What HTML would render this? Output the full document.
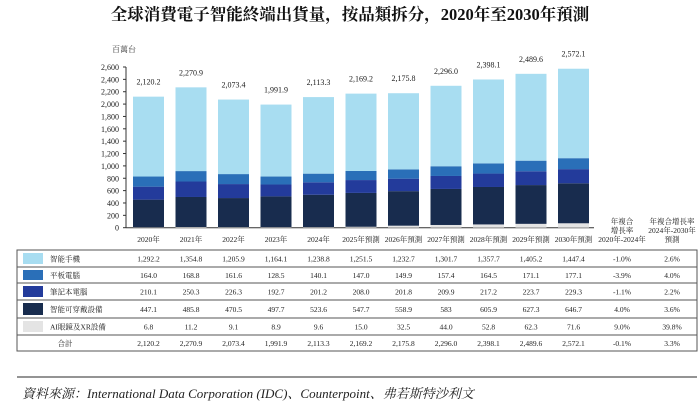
<!DOCTYPE html>
<html><head><meta charset="utf-8"><style>
body{margin:0;background:#fff;width:700px;height:408px;overflow:hidden;font-family:"Liberation Serif","Noto Serif CJK SC",serif;}
svg text{font-family:"Liberation Serif","Noto Serif CJK SC",serif;}
</style></head><body>
<svg id="c" width="700" height="408">
<text x="350" y="20" text-anchor="middle" font-size="16.5" font-weight="bold" fill="#111">全球消費電子智能終端出貨量，按品類拆分，2020年至2030年預測</text>
<text x="112" y="52" font-size="8" fill="#333">百萬台</text>
<g id="plot"></g>
<line x1="17" y1="377" x2="697" y2="377" stroke="#555" stroke-width="1.2"/>
<text x="22" y="398" font-size="13" font-style="italic" fill="#222">資料來源：International Data Corporation (IDC)、Counterpoint、弗若斯特沙利文</text>
</svg>
<script>
const years=["2020年","2021年","2022年","2023年","2024年","2025年預測","2026年預測","2027年預測","2028年預測","2029年預測","2030年預測"];
const seriesNames=["智能手機","平板電腦","筆記本電腦","智能可穿戴設備","AI眼鏡及XR設備"];
const phone=[1292.2,1354.8,1205.9,1164.1,1238.8,1251.5,1232.7,1301.7,1357.7,1405.2,1447.4];
const tablet=[164.0,168.8,161.6,128.5,140.1,147.0,149.9,157.4,164.5,171.1,177.1];
const notebook=[210.1,250.3,226.3,192.7,201.2,208.0,201.8,209.9,217.2,223.7,229.3];
const wearable=[447.1,485.8,470.5,497.7,523.6,547.7,558.9,583,605.9,627.3,646.7];
const aixr=[6.8,11.2,9.1,8.9,9.6,15.0,32.5,44.0,52.8,62.3,71.6];
const totals=[2120.2,2270.9,2073.4,1991.9,2113.3,2169.2,2175.8,2296.0,2398.1,2489.6,2572.1];
const cagr1=["-1.0%","-3.9%","-1.1%","4.0%","9.0%","-0.1%"];
const cagr2=["2.6%","4.0%","2.2%","3.6%","39.8%","3.3%"];
const yTicks=[0,200,400,600,800,1000,1200,1400,1600,1800,2000,2200,2400,2600];
const fmt=v=>v.toLocaleString('en-US',{minimumFractionDigits:1,maximumFractionDigits:1});
const NS="http://www.w3.org/2000/svg",g=document.getElementById('plot');
function mk(t,a,txt){const e=document.createElementNS(NS,t);for(const k in a)e.setAttribute(k,a[k]);if(txt!=null)e.textContent=txt;g.appendChild(e);return e;}
const y0=227.7,yTop=67,yMax=2600;
const Y=v=>y0-(v/yMax)*(y0-yTop);
const X=i=>148.5+i*42.5;
const bw=31;
let e=mk('line',{x1:126,y1:yTop,x2:126,y2:y0,stroke:'#333','stroke-width':1});

e=mk('line',{x1:126,y1:y0,x2:594,y2:y0,stroke:'#333','stroke-width':1});

yTicks.forEach(t=>{
 let l=mk('line',{x1:123,y1:Y(t),x2:126,y2:Y(t),stroke:'#333'});
 
 let tx=mk('text',{x:119,y:Y(t)+3,'text-anchor':'end','font-size':8,fill:'#222'},t.toLocaleString('en-US'));
 
});
const colors=["#a8ddf1","#2a6fb8","#233b9b","#182c4e","#e4e4e4"];
const stackOrder=[[aixr,4],[wearable,3],[notebook,2],[tablet,1],[phone,0]];
years.forEach((yr,i)=>{
 let base=0;
 stackOrder.forEach(([arr,ci])=>{
  const r=mk('rect',{x:X(i)-bw/2,y:Y(base+arr[i]),width:bw,height:Y(base)-Y(base+arr[i]),fill:colors[ci]});
  
  base+=arr[i];
 });
 let t=mk('text',{x:X(i),y:Y(totals[i])-12,'text-anchor':'middle','font-size':8,fill:'#222'},fmt(totals[i]));
 
 t=mk('text',{x:X(i),y:242,'text-anchor':'middle','font-size':7.5,fill:'#222'},yr);
 
});
// CAGR headers
[["年複合","增長率","2020年-2024年",622],["年複合增長率","2024年-2030年","預測",672]].forEach(h=>{
 [0,1,2].forEach(k=>{const t=mk('text',{x:h[3],y:224+k*9,'text-anchor':'middle','font-size':7.5,fill:'#222'},h[k]);
 });
});
// table
const rowsTop=[250,267,283,300,318,335,351];
const tableData=[phone,tablet,notebook,wearable,aixr,totals];
const labels=seriesNames.concat(["合計"]);
for(let r=0;r<6;r++){
 const ry=rowsTop[r],rh=rowsTop[r+1]-ry,cy=ry+rh/2+3;
 const b=mk('rect',{x:17,y:ry,width:680,height:rh,fill:'none',stroke:'#555','stroke-width':1});
 
 if(r<5){
  const s=mk('rect',{x:23,y:ry+3,width:20,height:rh-6,fill:colors[r]});
  
  const t=mk('text',{x:50,y:cy,'font-size':7.5,fill:'#222'},labels[r]);
  
 } else {
  const t=mk('text',{x:65,y:cy,'text-anchor':'middle','font-size':7.5,fill:'#222'},labels[r]);
  
 }
 tableData[r].forEach((v,i)=>{
  const t=mk('text',{x:X(i),y:cy,'text-anchor':'middle','font-size':7.5,fill:'#222'},(r===3&&i===7)?"583":fmt(v));
  
 });
 let t=mk('text',{x:622,y:cy,'text-anchor':'middle','font-size':7.5,fill:'#222'},cagr1[r]);
 
 t=mk('text',{x:672,y:cy,'text-anchor':'middle','font-size':7.5,fill:'#222'},cagr2[r]);
 
}
</script>
</body></html>
